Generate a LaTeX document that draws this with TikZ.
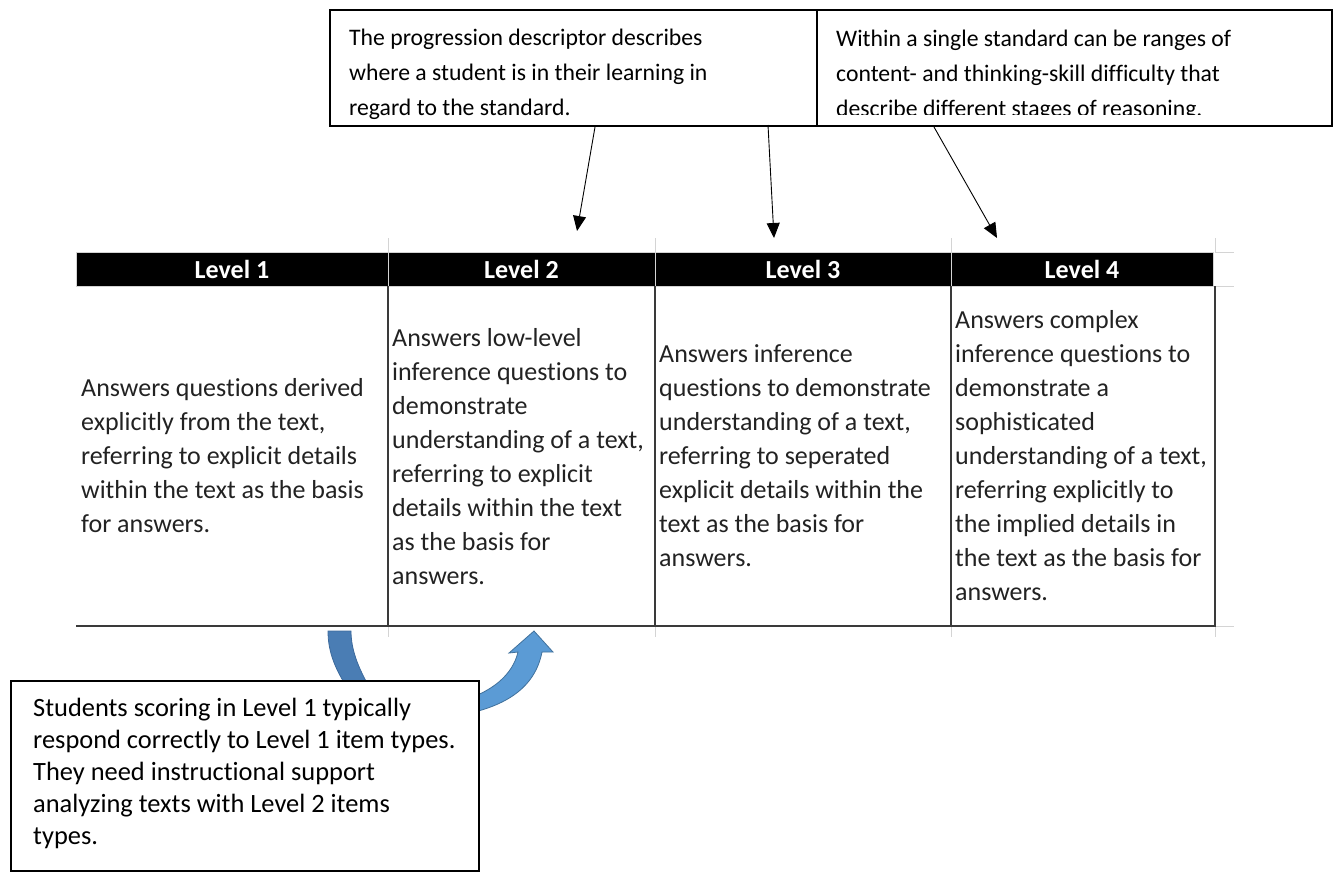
\documentclass[tikz,border=0pt]{standalone}
\usepackage{fontspec}
\setmainfont{Carlito}[Ligatures=NoCommon]
\usetikzlibrary{arrows.meta}
\definecolor{gridgray}{HTML}{D4D4D4}
\definecolor{rulegray}{HTML}{3A3A3A}
\definecolor{celltext}{HTML}{222222}
\definecolor{deepblue}{HTML}{4A7DB4}
\definecolor{deepblueedge}{HTML}{3C6A9C}
\definecolor{lightblue}{HTML}{5B9BD5}
\definecolor{lightblueedge}{HTML}{41719C}
\begin{document}
\begin{tikzpicture}[x=1pt,y=-1pt,
  notebox/.style={draw=black, line width=1.6pt, fill=white, inner sep=0pt, anchor=north west},
  notetext/.style={inner sep=0pt, align=left, anchor=north west, font=\fontsize{23.7}{35}\selectfont},
  studtext/.style={inner sep=0pt, align=left, anchor=west, font=\fontsize{26.4}{32}\selectfont},
  headcell/.style={fill=black, draw=gridgray, line width=0.8pt, text=white, inner sep=0pt,
    minimum height=34pt, font=\fontsize{26}{28}\selectfont\bfseries},
  celltxt/.style={inner sep=0pt, align=left, anchor=west, text=celltext, font=\fontsize{26}{34}\selectfont},
  pointer/.style={draw=black, line width=0.9pt, -{Triangle[length=15pt,width=13pt]}},
  rule/.style={draw=rulegray, line width=1.3pt},
  grid/.style={draw=gridgray, line width=1pt}
]
\useasboundingbox (0,0) rectangle (1343,871);

% ---- note boxes at the top ----
\node[notebox, minimum width=487pt, minimum height=116pt] (descbox) at (329,9) {};
\node[notebox, minimum width=515pt, minimum height=116pt] (rangebox) at (816,9) {};
\node[notetext] (desctext) at (349,29) {The progression descriptor describes\\where a student is in their learning in\\regard to the standard.};
\begin{scope}
  \clip (817,10) rectangle (1330,114);
  \node[notetext] (rangetext) at (836,30) {Within a single standard can be ranges of\\content- and thinking-skill difficulty that\\describe different stages of reasoning.};
\end{scope}

% ---- light spreadsheet gridlines ----
\foreach \gx in {388,655,951,1215} {
  \draw[grid] (\gx,238) -- (\gx,252);
  \draw[grid] (\gx,626) -- (\gx,637);
}
\foreach \gy in {252,286,626} \draw[grid] (1215,\gy) -- (1234,\gy);

% ---- header row ----
\node[headcell, minimum width=312pt] (h1) at (232,269) {Level 1};
\node[headcell, minimum width=267pt] (h2) at (521.5,269) {Level 2};
\node[headcell, minimum width=296pt] (h3) at (803,269) {Level 3};
\node[headcell, minimum width=262pt] (h4) at (1082,269) {Level 4};

% ---- body rules ----
\foreach \gx in {388,655,951,1215} \draw[rule] (\gx,286) -- (\gx,626);
\draw[rule, line width=1.8pt] (76,626) -- (1216,626);

% ---- body cells ----
\node[celltxt] (c1) at (81,456) {Answers questions derived\\explicitly from the text,\\referring to explicit details\\within the text as the basis\\for answers.};
\node[celltxt] (c2) at (392,457) {Answers low-level\\inference questions to\\demonstrate\\understanding of a text,\\referring to explicit\\details within the text\\as the basis for\\answers.};
\node[celltxt] (c3) at (659,456) {Answers inference\\questions to demonstrate\\understanding of a text,\\referring to seperated\\explicit details within the\\text as the basis for\\answers.};
\node[celltxt] (c4) at (955,456) {Answers complex\\inference questions to\\demonstrate a\\sophisticated\\understanding of a text,\\referring explicitly to\\the implied details in\\the text as the basis for\\answers.};

% ---- pointers from the notes to the level columns ----
\coordinate (a1s) at (595,127);
\coordinate (a1e) at (577,231);
\coordinate (a2s) at (768,125);
\coordinate (a2e) at (774,238);
\coordinate (a3s) at (934,127);
\coordinate (a3e) at (997,238);
\draw[pointer] (a1s) -- (a1e);
\draw[pointer] (a2s) -- (a2e);
\draw[pointer] (a3s) -- (a3e);

% ---- curved block arrows below the table ----
\filldraw[fill=deepblue, draw=deepblueedge, line width=0.8pt]
  (328,631) .. controls (328,652) and (335,670) .. (352,695)
  -- (374,695) .. controls (360,672) and (351,652) .. (351,631) -- cycle;
\filldraw[fill=lightblue, draw=lightblueedge, line width=0.8pt]
  (455,702) .. controls (492,694) and (513,674) .. (518,652)
  -- (509,653) -- (534,631) -- (553,652) -- (542,652)
  .. controls (535,688) and (505,708) .. (455,716) -- cycle;

% ---- student note box ----
\node[notebox, minimum width=468pt, minimum height=190pt] (studbox) at (10,680) {};
\node[studtext] (studtext) at (33,773) {Students scoring in Level 1 typically\\respond correctly to Level 1 item types.\\They need instructional support\\analyzing texts with Level 2 items\\types.};
\end{tikzpicture}
\end{document}
